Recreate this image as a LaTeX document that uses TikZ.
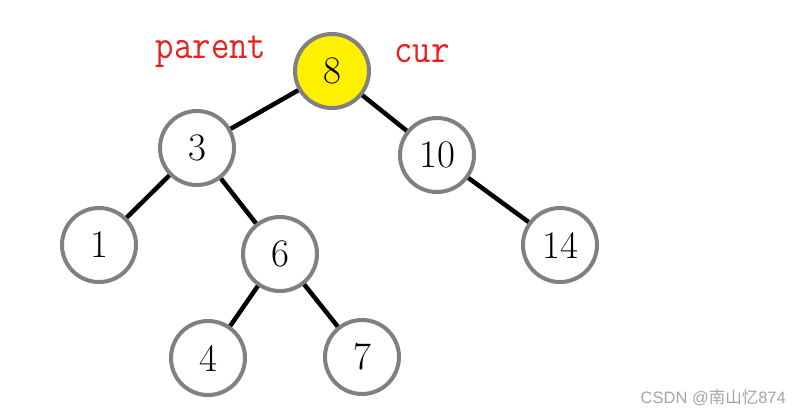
\documentclass[tikz,border=0pt]{standalone}
\usepackage{fontspec}
\newfontfamily\cjkfont{Noto Sans CJK SC}
\newfontfamily\wmfont{Liberation Sans}
\newfontfamily\lblfont[FakeStretch=0.87]{Latin Modern Mono}
\definecolor{nodegray}{RGB}{128,128,128}
\definecolor{hlyellow}{RGB}{255,240,0}
\definecolor{lblred}{RGB}{235,30,30}
\definecolor{wmgray}{RGB}{165,165,165}
\tikzset{
  treenode/.style={circle, draw=nodegray, line width=4pt, minimum size=74pt, inner sep=0pt,
    font=\fontsize{39}{41}\selectfont},
  curnode/.style={treenode, fill=hlyellow},
  treeedge/.style={line width=4.5pt, black},
  redlabel/.style={text=lblred, font=\lblfont\fontsize{41}{43}\selectfont, inner sep=0pt, anchor=base},
  watermark/.style={text=wmgray, font=\wmfont\fontsize{16.5}{18}\selectfont, inner sep=0pt, anchor=base east}
}
\begin{document}
\begin{tikzpicture}[x=1pt,y=-1pt]
\useasboundingbox (0,0) rectangle (802,416);
\node[curnode] (n8) at (332,71) {8};
\node[treenode] (n3) at (197,148) {3};
\node[treenode] (n10) at (437,155) {10};
\node[treenode] (n1) at (99,245) {1};
\node[treenode] (n6) at (280,254) {6};
\node[treenode] (n14) at (560,245) {14};
\node[treenode] (n4) at (208,358) {4};
\node[treenode] (n7) at (362,357) {7};
\draw[treeedge] (n8) -- (n3);
\draw[treeedge] (n8) -- (n10);
\draw[treeedge] (n3) -- (n1);
\draw[treeedge] (n3) -- (n6);
\draw[treeedge] (n10) -- (n14);
\draw[treeedge] (n6) -- (n4);
\draw[treeedge] (n6) -- (n7);
\node[redlabel] (parent) at (211,58) {parent};
\node[redlabel] (cur) at (422,62) {cur};
\node[watermark] (wm) at (786,403) {CSDN @{\cjkfont 南山忆}874};
\end{tikzpicture}
\end{document}
